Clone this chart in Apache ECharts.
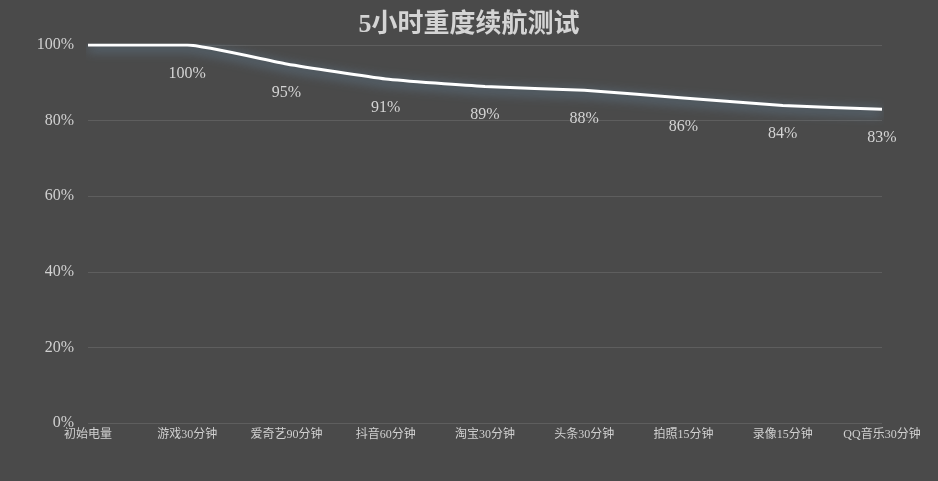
<!DOCTYPE html>
<html>
<head>
<meta charset="utf-8">
<script src="https://cdn.jsdelivr.net/npm/echarts@6/dist/echarts.min.js"></script>
<style>
  html, body { margin: 0; padding: 0; background: #4a4a4a; }
  #main { width: 938px; height: 481px; }
</style>
</head>
<body>
<div id="main"></div>
<script>
var categories = ['初始电量', '游戏30分钟', '爱奇艺90分钟', '抖音60分钟', '淘宝30分钟', '头条30分钟', '拍照15分钟', '录像15分钟', 'QQ音乐30分钟'];
var battery = [100, 100, 95, 91, 89, 88, 86, 84, 83];
var yTicks = [0, 20, 40, 60, 80, 100];

var font = '"Liberation Serif", "Noto Sans CJK SC", serif';
var chart = echarts.init(document.getElementById('main'));

var option = {
  backgroundColor: '#4a4a4a',
  title: {
    text: '5小时重度续航测试',
    left: 'center',
    top: 7,
    textStyle: {
      color: '#d4d4d4',
      fontSize: 26,
      fontWeight: 'bold',
      fontFamily: font
    }
  },
  grid: {
    left: 88,
    right: 56,
    top: 45,
    bottom: 58
  },
  xAxis: {
    type: 'category',
    data: categories,
    boundaryGap: false,
    axisLine: { show: false },
    axisTick: { show: false },
    axisLabel: {
      color: '#d0d0d0',
      fontSize: 12,
      fontFamily: font,
      margin: 6,
      interval: 0
    }
  },
  yAxis: {
    type: 'value',
    min: yTicks[0],
    max: yTicks[yTicks.length - 1],
    interval: 20,
    axisLine: { show: false },
    axisTick: { show: false },
    splitLine: { lineStyle: { color: '#5e5e5e', width: 1 } },
    axisLabel: {
      color: '#d0d0d0',
      fontSize: 16,
      fontFamily: font,
      margin: 14,
      formatter: '{value}%'
    }
  },
  series: [
    {
      type: 'line',
      data: battery,
      smooth: 0.15,
      symbol: 'circle',
      symbolSize: 1,
      itemStyle: { color: 'rgba(0,0,0,0)' },
      lineStyle: {
        color: '#ffffff',
        width: 3,
        shadowColor: 'rgba(120, 170, 210, 0.8)',
        shadowBlur: 12,
        shadowOffsetY: 3
      },
      label: {
        show: true,
        position: 'bottom',
        distance: 20,
        color: '#d4d4d4',
        fontSize: 16,
        fontFamily: font,
        formatter: function (p) {
          return p.dataIndex === 0 ? '' : p.value + '%';
        }
      }
    }
  ]
};

chart.setOption(option);
</script>
</body>
</html>
